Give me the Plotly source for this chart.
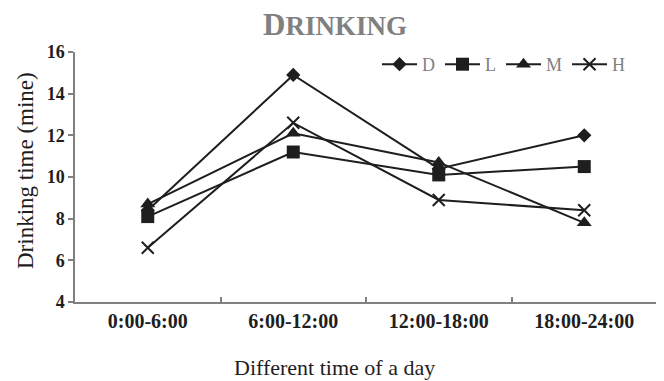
import plotly.graph_objects as go

categories = ["0:00-6:00", "6:00-12:00", "12:00-18:00", "18:00-24:00"]
series_names = ["D", "L", "M", "H"]
D = [8.4, 14.9, 10.4, 12.0]
L = [8.1, 11.2, 10.1, 10.5]
M = [8.7, 12.1, 10.7, 7.8]
H = [6.6, 12.6, 8.9, 8.4]
y_ticks = [4, 6, 8, 10, 12, 14, 16]

values = {"D": D, "L": L, "M": M, "H": H}
symbols = {"D": "diamond", "L": "square", "M": "triangle-up", "H": "x-thin-open"}
sizes = {"D": 11, "L": 13, "M": 13, "H": 12}

INK = "#1e1e1e"
GREY = "#808080"
SERIF = "Liberation Serif, Times New Roman, serif"

# the page body has an 8px margin, so the figure is 8px smaller and offsets are shifted
W, Hgt = 656, 373
OFF = 8
px_l, px_r, px_t, px_b = 75 - OFF, 657 - OFF, 52 - OFF, 302 - OFF
pw, ph = px_r - px_l, px_b - px_t

fig = go.Figure()
for name in series_names:
    fig.add_trace(go.Scatter(
        x=categories, y=values[name], name=name, mode="lines+markers",
        line=dict(color=INK, width=2),
        marker=dict(symbol=symbols[name], size=sizes[name], color=INK,
                    line=dict(color=INK, width=2 if name == "H" else 0)),
    ))

fig.update_layout(
    width=W, height=Hgt,
    margin=dict(l=px_l, r=W - px_r, t=px_t, b=Hgt - px_b),
    paper_bgcolor="white", plot_bgcolor="white",
    title=dict(text="D<span style='font-size:27px'>RINKING</span>",
               x=(335 - OFF) / W, xref="container", xanchor="center",
               y=1 - (24 - OFF) / Hgt, yref="container", yanchor="middle",
               font=dict(family=SERIF, size=31, color=GREY, weight="bold")),
    showlegend=True,
    legend=dict(orientation="h", x=(377 - OFF - px_l) / pw, xanchor="left",
                y=(px_b - (46 - OFF)) / ph, yanchor="top",
                bgcolor="rgba(0,0,0,0)", font=dict(family=SERIF, size=18, color=GREY),
                itemwidth=35, tracegroupgap=0),
    xaxis=dict(type="category", range=[-0.5, 3.5], tickson="boundaries",
               ticks="inside", ticklen=5, tickcolor=GREY, tickwidth=1.5,
               showline=True, linecolor=GREY, linewidth=1.5, showgrid=False,
               tickfont=dict(family=SERIF, size=20, color=INK, weight="bold"),
               zeroline=False),
    yaxis=dict(range=[4, 16], tickvals=y_ticks, ticks="outside", ticklen=5,
               tickcolor=GREY, tickwidth=1.5,
               showline=True, linecolor=GREY, linewidth=1.5, showgrid=False,
               zeroline=False,
               tickfont=dict(family=SERIF, size=18, color=INK, weight="bold")),
    annotations=[
        dict(text="Different time of a day", xref="paper", yref="paper",
             x=(334 - 75) / pw, y=(302 - 367) / ph, xanchor="center", yanchor="middle",
             showarrow=False, font=dict(family=SERIF, size=22, color=INK)),
        dict(text="Drinking time (mine)", xref="paper", yref="paper",
             x=(25 - 75) / pw, y=(302 - 171) / ph, xanchor="center", yanchor="middle",
             textangle=-90, showarrow=False, font=dict(family=SERIF, size=23, color=INK)),
    ],
)

fig.write_html("out.html")
